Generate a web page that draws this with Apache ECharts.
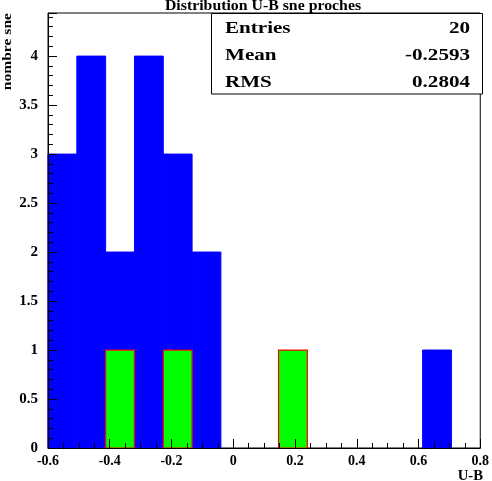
<!DOCTYPE html>
<html>
<head>
<meta charset="utf-8">
<script src="https://cdn.jsdelivr.net/npm/echarts@6/dist/echarts.min.js"></script>
<style>
html,body{margin:0;padding:0;background:#fff;}
#c{width:492px;height:481px;}
</style>
</head>
<body>
<div id="c"></div>
<script>
// Histogram definition
var xMin = -0.6, xMax = 0.8, nBins = 15;
var blueCounts  = [3, 4, 2, 4, 3, 2, 0, 0, 0, 0, 0, 0, 0, 1, 0];
var greenCounts = [0, 0, 1, 0, 1, 0, 0, 0, 1, 0, 0, 0, 0, 0, 0];
var yMax = 4.44;
var titleText = 'Distribution U-B sne proches';
var statsLabels = ['Entries', 'Mean', 'RMS'];
var statsValues = ['20', '-0.2593', '0.2804'];
var xName = 'U-B', yName = 'nombre sne';

var binW = (xMax - xMin) / nBins;
function toBins(counts) {
  var out = [];
  for (var i = 0; i < counts.length; i++) {
    if (counts[i] > 0) out.push([xMin + i * binW, xMin + (i + 1) * binW, counts[i]]);
  }
  return out;
}
function renderBar(style) {
  return function (params, api) {
    var p0 = api.coord([api.value(0), api.value(2)]);
    var p1 = api.coord([api.value(1), 0]);
    return {
      type: 'rect',
      shape: { x: p0[0], y: p0[1], width: p1[0] - p0[0], height: p1[1] - p0[1] },
      style: style
    };
  };
}
var font = 'Liberation Serif';
var chart = echarts.init(document.getElementById('c'), null, { renderer: 'canvas' });
var rowsY = [28.5, 55.5, 82.5];
var graphics = [
  { type: 'rect', z: 100, shape: { x: 211.5, y: 13.5, width: 271, height: 80.5 },
    style: { fill: '#fff', stroke: '#000', lineWidth: 1 } },
  { type: 'text', z: 101, x: 263, y: 6.5, scaleX: 1.13,
    style: { text: titleText, x: 0, y: 0, textAlign: 'center', textVerticalAlign: 'middle',
             font: 'bold 14px "' + font + '"', fill: '#000' } },
  { type: 'text', z: 101, rotation: Math.PI / 2, x: 7.5, y: 13, scaleX: 1.2,
    style: { text: yName, x: 0, y: 0, textAlign: 'right', textVerticalAlign: 'middle',
             font: 'bold 13px "' + font + '"', fill: '#000' } },
  { type: 'text', z: 101, x: 483, y: 476, scaleX: 1.05,
    style: { text: xName, x: 0, y: 0, textAlign: 'right', textVerticalAlign: 'middle',
             font: 'bold 14px "' + font + '"', fill: '#000' } }
];
for (var i = 0; i < statsLabels.length; i++) {
  graphics.push({ type: 'text', z: 101, x: 225, y: rowsY[i], scaleX: 1.24,
    style: { text: statsLabels[i], x: 0, y: 0, textAlign: 'left', textVerticalAlign: 'middle',
             font: 'bold 17px "' + font + '"', fill: '#000' } });
  graphics.push({ type: 'text', z: 101, x: 470, y: rowsY[i], scaleX: 1.24,
    style: { text: statsValues[i], x: 0, y: 0, textAlign: 'right', textVerticalAlign: 'middle',
             font: 'bold 17px "' + font + '"', fill: '#000' } });
}

chart.setOption({
  animation: false,
  backgroundColor: '#fff',
  grid: { left: 48, right: 9, top: 13, bottom: 33, show: true, borderColor: '#000', borderWidth: 1, backgroundColor: 'transparent' },
  xAxis: {
    type: 'value', min: xMin, max: xMax, interval: 0.2, z: 10,
    axisLine: { show: true, onZero: false, lineStyle: { color: '#000', width: 1 } },
    axisTick: { show: true, inside: true, length: 9, lineStyle: { color: '#000', width: 1 } },
    minorTick: { show: true, splitNumber: 4, length: 5, lineStyle: { color: '#000', width: 1 } },
    splitLine: { show: false },
    axisLabel: { color: '#000', fontFamily: font, fontWeight: 'bold', fontSize: 14, margin: 6 }
  },
  yAxis: {
    type: 'value', min: 0, max: yMax, interval: 0.5, z: 10,
    axisLine: { show: true, onZero: false, lineStyle: { color: '#000', width: 1 } },
    axisTick: { show: true, inside: true, length: 9, lineStyle: { color: '#000', width: 1 } },
    minorTick: { show: true, splitNumber: 5, length: 5, lineStyle: { color: '#000', width: 1 } },
    splitLine: { show: false },
    axisLabel: { color: '#000', fontFamily: font, fontWeight: 'bold', fontSize: 15, margin: 10,
      showMaxLabel: false,
      formatter: function (v) { return (Math.abs(v * 2 - Math.round(v * 2)) < 1e-6) ? String(v) : ''; } }
  },
  series: [
    { type: 'custom', data: toBins(blueCounts), z: 2,
      encode: { x: [0, 1], y: 2 },
      renderItem: renderBar({ fill: '#0000ff', stroke: '#0000ff', lineWidth: 1 }) },
    { type: 'custom', data: toBins(greenCounts), z: 3,
      encode: { x: [0, 1], y: 2 },
      renderItem: renderBar({ fill: '#00ff00', stroke: '#ff0000', lineWidth: 1.2 }) }
  ],
  graphic: graphics
});
</script>
</body>
</html>
